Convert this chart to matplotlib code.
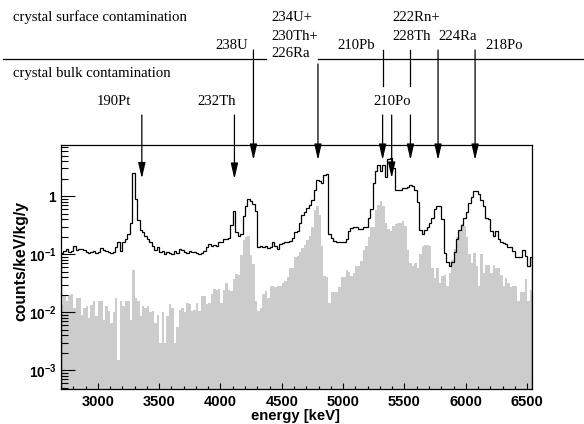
import numpy as np
import matplotlib
matplotlib.use("Agg")
import matplotlib.pyplot as plt
from matplotlib.ticker import LogLocator, MultipleLocator, FuncFormatter, NullFormatter
from matplotlib.lines import Line2D
from matplotlib.transforms import blended_transform_factory

# ---------------- data ----------------
bin_start = 2700
bin_width = 20

surface_counts = [
    0.104, 0.115, 0.122, 0.11, 0.112, 0.14, 0.12, 0.125, 0.125, 0.118,   # 2700-2880
    0.11, 0.105, 0.108, 0.112, 0.104, 0.11, 0.13, 0.118, 0.112, 0.11,    # 2900-3080
    0.104, 0.108, 0.135, 0.16, 0.115, 0.165, 0.18, 0.22, 0.34, 2.55,     # 3100-3280
    0.88, 0.39, 0.26, 0.24, 0.21, 0.18, 0.16, 0.14, 0.12, 0.135,         # 3300-3480
    0.11, 0.115, 0.1, 0.11, 0.105, 0.1, 0.115, 0.104, 0.125, 0.12,       # 3500-3680
    0.108, 0.104, 0.115, 0.11, 0.108, 0.104, 0.1, 0.105, 0.115, 0.135,   # 3700-3880
    0.15, 0.14, 0.145, 0.14, 0.16, 0.165, 0.18, 0.18, 0.19, 0.32,        # 3900-4080
    0.56, 0.245, 0.21, 0.22, 0.45, 0.68, 0.9, 0.82, 0.74, 0.56,          # 4100-4280
    0.135, 0.14, 0.135, 0.14, 0.13, 0.135, 0.16, 0.14, 0.125, 0.15,      # 4300-4480
    0.155, 0.16, 0.16, 0.17, 0.19, 0.245, 0.25, 0.34, 0.47, 0.54,        # 4500-4680
    0.62, 0.7, 0.86, 1.28, 1.9, 1.8, 1.68, 2.3, 2.4, 0.22,               # 4700-4880
    0.19, 0.17, 0.165, 0.16, 0.16, 0.165, 0.18, 0.255, 0.28, 0.29,       # 4900-5080
    0.29, 0.27, 0.275, 0.29, 0.3, 0.42, 0.6, 1.7, 2.75, 3.4,             # 5100-5280
    2.7, 3.4, 2.1, 4.4, 4.5, 3.0, 1.3, 1.28, 1.3, 1.4,                   # 5300-5480
    1.4, 1.45, 1.55, 1.5, 1.3, 0.8, 0.26, 0.22, 0.26, 0.29,              # 5500-5680
    0.34, 0.42, 0.59, 0.69, 0.69, 0.4, 0.104, 0.075, 0.063, 0.075,       # 5700-5880
    0.11, 0.18, 0.26, 0.32, 0.42, 0.54, 0.75, 0.98, 1.24, 1.24,          # 5900-6080
    1.1, 0.85, 0.69, 0.42, 0.41, 0.25, 0.21, 0.25, 0.18, 0.16,           # 6100-6280
    0.155, 0.15, 0.135, 0.135, 0.115, 0.09, 0.09, 0.09, 0.12, 0.095,     # 6300-6480
    0.063, 0.09,                                                          # 6500-6520
]

bulk_counts = [
    0.0134, 0.019, 0.016, 0.02, 0.021, 0.012, 0.018, 0.018, 0.009, 0.012,      # 2700-2880
    0.013, 0.0079, 0.0135, 0.016, 0.0085, 0.016, 0.016, 0.0074, 0.013, 0.0105, # 2900-3080
    0.0065, 0.01, 0.018, 0.0015, 0.016, 0.013, 0.016, 0.016, 0.0074, 0.054,    # 3100-3280
    0.018, 0.016, 0.0085, 0.013, 0.012, 0.013, 0.01, 0.0105, 0.0065, 0.0089,   # 3300-3480
    0.003, 0.01, 0.003, 0.0085, 0.014, 0.012, 0.003, 0.0057, 0.011, 0.012,     # 3500-3680
    0.01, 0.0145, 0.014, 0.0105, 0.011, 0.0145, 0.0105, 0.019, 0.019, 0.014,   # 3700-3880
    0.0145, 0.021, 0.025, 0.024, 0.025, 0.0145, 0.024, 0.032, 0.024, 0.023,    # 3900-4080
    0.037, 0.045, 0.044, 0.097, 0.176, 0.2, 0.21, 0.097, 0.068, 0.016,         # 4100-4280
    0.0107, 0.012, 0.021, 0.023, 0.018, 0.028, 0.028, 0.027, 0.029, 0.028,     # 4300-4480
    0.032, 0.034, 0.04, 0.057, 0.057, 0.089, 0.094, 0.11, 0.13, 0.147,         # 4500-4680
    0.176, 0.21, 0.3, 0.58, 0.68, 0.48, 0.14, 0.042, 0.04, 0.0145,             # 4700-4880
    0.022, 0.022, 0.022, 0.027, 0.04, 0.04, 0.053, 0.05, 0.042, 0.048,         # 4900-5080
    0.063, 0.064, 0.077, 0.12, 0.14, 0.2, 0.3, 0.29, 0.58, 0.71,               # 5100-5280
    0.84, 0.68, 0.34, 0.27, 0.25, 0.31, 0.33, 0.35, 0.35, 0.37,                # 5300-5480
    0.31, 0.12, 0.07, 0.063, 0.07, 0.057, 0.1, 0.14, 0.147, 0.147,             # 5500-5680
    0.14, 0.057, 0.039, 0.057, 0.032, 0.043, 0.044, 0.028, 0.048, 0.08,        # 5700-5880
    0.125, 0.196, 0.25, 0.33, 0.31, 0.2, 0.1, 0.07, 0.104, 0.063,              # 5900-6080
    0.028, 0.1, 0.048, 0.066, 0.066, 0.048, 0.066, 0.057, 0.057, 0.044,        # 6100-6280
    0.028, 0.039, 0.032, 0.027, 0.029, 0.029, 0.016, 0.022, 0.022, 0.037,      # 6300-6480
    0.0155, 0.024,                                                              # 6500-6520
]

x_ticks = [3000, 3500, 4000, 4500, 5000, 5500, 6000, 6500]

# arrow energies, start y (px), tip y (px), optional gap (y px)
arrow_energy = [3359, 4114, 4269, 4795, 5322, 5396, 5549, 5774, 6076]
arrow_start = [115, 115, 50, 64, 50, 115, 50, 50, 50]
arrow_tip = [178.5, 179, 160, 160, 160, 178, 160, 160, 160]
arrow_gap = [None, None, None, None, (86, 115), None, (86, 115), None, None]

# ---------------- figure ----------------
W, H = 584, 424
fig = plt.figure(figsize=(W / 100, H / 100), dpi=100)
plt.rcParams['mathtext.fontset'] = 'custom'
plt.rcParams['mathtext.bf'] = 'Liberation Sans:bold'
plt.rcParams['mathtext.rm'] = 'Liberation Sans:bold'

ax_l, ax_r, ax_t, ax_b = 61, 532, 145, 389
ax = fig.add_axes([ax_l / W, 1 - ax_b / H, (ax_r - ax_l) / W, (ax_b - ax_t) / H])

edges = bin_start + bin_width * np.arange(len(surface_counts) + 1)
ax.stairs(bulk_counts, edges, fill=True, color='#cccccc', baseline=1e-5, lw=0)
ax.stairs(surface_counts, edges, color='black', lw=0.9)

ax.set_yscale('log')
ax.set_xlim(edges[0], edges[-1])
ax.set_ylim(4.8e-4, 7.6)

ax.xaxis.set_major_locator(plt.FixedLocator(x_ticks))
ax.xaxis.set_minor_locator(MultipleLocator(100))
ax.yaxis.set_major_locator(LogLocator(base=10, numticks=12))
ax.yaxis.set_minor_locator(LogLocator(base=10, subs=np.arange(2, 10), numticks=12))
ax.yaxis.set_minor_formatter(NullFormatter())

def yfmt(v, pos):
    e = int(round(np.log10(v)))
    if e == 0:
        return r'$\mathbf{1}$'
    return r'$\mathbf{10^{%d}}$' % e

ax.yaxis.set_major_formatter(FuncFormatter(yfmt))

ax.tick_params(axis='x', which='major', direction='in', length=4.5, width=0.8, pad=4.5, labelsize=10.5)
ax.tick_params(axis='x', which='minor', direction='in', length=2.3, width=0.8)
ax.tick_params(axis='y', which='major', direction='in', length=10, width=0.8, pad=3, labelsize=9.8)
ax.tick_params(axis='y', which='minor', direction='in', length=5, width=0.8)
for lab in ax.get_xticklabels():
    lab.set_family('Liberation Sans'); lab.set_weight('bold')
for sp in ax.spines.values():
    sp.set_linewidth(0.9)

ax.set_xlabel('energy [keV]', fontfamily='Liberation Sans', fontweight='bold', fontsize=10.7)
ax.xaxis.set_label_coords((295.5 - ax_l) / (ax_r - ax_l), (ax_b - 416) / (ax_b - ax_t))
ax.xaxis.label.set_va('center')
ax.set_ylabel('counts/keV/kg/y', fontfamily='Liberation Sans', fontweight='bold', fontsize=11.3)
ax.yaxis.set_label_coords((21 - ax_l) / (ax_r - ax_l), (ax_b - 261) / (ax_b - ax_t))
ax.yaxis.label.set_va('center')

# ---------------- annotations ----------------
def fx(x):
    return x / W

def fy(y):
    return 1 - y / H

serif = dict(family='Liberation Serif', fontsize=10.6, color='black')

fig.text(fx(12.7), fy(17.3), 'crystal surface contamination', ha='left', va='center', **serif)
fig.text(fx(12.7), fy(73.3), 'crystal bulk contamination', ha='left', va='center', **serif)

fig.add_artist(Line2D([fx(3), fx(266)], [fy(59.3), fy(59.3)], color='black', lw=0.9))
fig.add_artist(Line2D([fx(318), fx(584)], [fy(59.3), fy(59.3)], color='black', lw=0.9))

label_specs = [
    ('238U', 248, 45.7, 'right'),
    ('234U+', 271.7, 17.3, 'left'),
    ('230Th+', 271.7, 36.5, 'left'),
    ('226Ra', 271.7, 53.8, 'left'),
    ('210Pb', 356, 45.7, 'center'),
    ('222Rn+', 392.7, 17.3, 'left'),
    ('228Th', 392.7, 36.5, 'left'),
    ('224Ra', 438.7, 36.2, 'left'),
    ('218Po', 485.3, 45.7, 'left'),
    ('210Po', 392.5, 101.7, 'center'),
    ('190Pt', 113.7, 101.7, 'center'),
    ('232Th', 216.7, 101.7, 'center'),
]
for txt, x, y, ha in label_specs:
    fig.text(fx(x), fy(y), txt, ha=ha, va='center', **serif)

trans = blended_transform_factory(ax.transData, fig.transFigure)
for E, y0, y1, gap in zip(arrow_energy, arrow_start, arrow_tip, arrow_gap):
    if gap is not None:
        ax.add_line(Line2D([E, E], [fy(y0), fy(gap[0])], transform=trans, color='black', lw=0.9, clip_on=False))
        y0 = gap[1]
    ax.annotate('', xy=(E, fy(y1)), xytext=(E, fy(y0)),
                xycoords=trans, textcoords=trans,
                arrowprops=dict(arrowstyle='-|>,head_length=0.95,head_width=0.22',
                                mutation_scale=10, color='black', lw=0.9,
                                shrinkA=0, shrinkB=0),
                annotation_clip=False)

fig.savefig('out.png', dpi=100)
